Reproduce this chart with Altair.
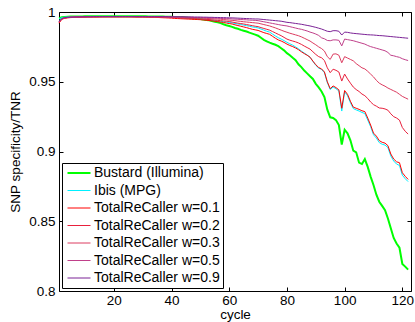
import altair as alt
import pandas as pd

# values in units of 1e-4 (e.g. 9966 -> 0.9966), cycles 1..122
bustard = [9955, 9962, 9965, 9966, 9967, 9967, 9968, 9968, 9968, 9969,
           9969, 9969, 9969, 9970, 9970, 9970, 9970, 9970, 9970, 9970,
           9970, 9970, 9970, 9970, 9970, 9970, 9969, 9969, 9969, 9969,
           9969, 9968, 9968, 9968, 9967, 9967, 9967, 9966, 9966, 9966,
           9965, 9964, 9963, 9962, 9960, 9958, 9956, 9954, 9952, 9950,
           9946, 9943, 9940, 9935, 9930, 9926, 9920, 9912, 9905, 9900,
           9893, 9885, 9880, 9872, 9866, 9860, 9852, 9845, 9838, 9830,
           9815, 9800, 9790, 9780, 9772, 9765, 9755, 9740, 9725, 9705,
           9690, 9672, 9655, 9625, 9605, 9580, 9560, 9540, 9520, 9485,
           9460, 9430, 9390, 9300, 9245, 9240, 9225, 9190, 9050, 9156,
           9130, 9080, 9006, 8994, 8920, 8910, 8946, 8890, 8820, 8760,
           8690, 8640, 8610, 8580, 8520, 8450, 8380, 8340, 8310, 8194,
           8175, 8153]
ibis = [9950, 9960, 9963, 9964, 9965, 9966, 9966, 9967, 9967, 9967,
        9968, 9968, 9968, 9968, 9968, 9968, 9968, 9968, 9968, 9968,
        9968, 9968, 9968, 9968, 9968, 9968, 9968, 9967, 9967, 9967,
        9967, 9967, 9966, 9966, 9966, 9965, 9965, 9964, 9964, 9963,
        9962, 9961, 9960, 9959, 9957, 9956, 9954, 9953, 9951, 9950,
        9948, 9946, 9944, 9942, 9940, 9937, 9934, 9931, 9928, 9925,
        9922, 9918, 9914, 9910, 9906, 9902, 9898, 9893, 9890, 9886,
        9878, 9870, 9862, 9856, 9842, 9828, 9816, 9806, 9795, 9783,
        9772, 9762, 9750, 9736, 9720, 9706, 9692, 9676, 9646, 9618,
        9598, 9588, 9565, 9494, 9444, 9462, 9450, 9434, 9290, 9428,
        9400, 9350, 9308, 9298, 9290, 9280, 9272, 9226, 9178, 9120,
        9096, 9064, 9052, 9046, 9028, 8968, 8932, 8910, 8900, 8830,
        8805, 8784]
trc_01 = [9920, 9948, 9955, 9958, 9960, 9961, 9962, 9962, 9963, 9963,
          9964, 9964, 9964, 9964, 9965, 9965, 9965, 9965, 9965, 9965,
          9965, 9965, 9965, 9965, 9965, 9965, 9964, 9964, 9964, 9964,
          9963, 9963, 9962, 9962, 9961, 9960, 9959, 9958, 9957, 9956,
          9954, 9953, 9952, 9951, 9950, 9949, 9948, 9947, 9946, 9945,
          9943, 9941, 9939, 9937, 9934, 9931, 9928, 9925, 9921, 9917,
          9914, 9908, 9903, 9898, 9893, 9888, 9882, 9876, 9872, 9868,
          9860, 9852, 9846, 9840, 9826, 9812, 9800, 9792, 9782, 9770,
          9760, 9752, 9742, 9730, 9715, 9702, 9690, 9676, 9648, 9622,
          9602, 9592, 9570, 9500, 9450, 9470, 9458, 9442, 9310, 9437,
          9410, 9360, 9318, 9310, 9302, 9292, 9286, 9240, 9190, 9132,
          9110, 9078, 9066, 9060, 9042, 8982, 8946, 8926, 8920, 8848,
          8822, 8800]
trc_02 = [9925, 9950, 9957, 9960, 9962, 9963, 9963, 9964, 9964, 9964,
          9965, 9965, 9965, 9965, 9965, 9966, 9966, 9966, 9966, 9966,
          9966, 9966, 9966, 9966, 9966, 9966, 9966, 9965, 9965, 9965,
          9965, 9965, 9964, 9964, 9964, 9963, 9963, 9962, 9962, 9961,
          9960, 9959, 9958, 9957, 9956, 9955, 9954, 9953, 9952, 9950,
          9948, 9947, 9946, 9944, 9942, 9940, 9938, 9936, 9934, 9932,
          9928, 9924, 9920, 9917, 9914, 9910, 9906, 9902, 9898, 9895,
          9888, 9882, 9876, 9870, 9860, 9850, 9840, 9830, 9818, 9806,
          9798, 9792, 9786, 9778, 9768, 9756, 9745, 9734, 9715, 9696,
          9680, 9672, 9652, 9600, 9565, 9590, 9582, 9570, 9505, 9555,
          9520, 9490, 9462, 9444, 9430, 9412, 9400, 9380, 9355, 9336,
          9325, 9312, 9310, 9305, 9296, 9270, 9250, 9240, 9225, 9172,
          9145, 9125]
trc_03 = [9928, 9952, 9958, 9961, 9963, 9964, 9964, 9965, 9965, 9965,
          9966, 9966, 9966, 9966, 9966, 9966, 9966, 9967, 9967, 9967,
          9967, 9967, 9967, 9967, 9967, 9967, 9967, 9966, 9966, 9966,
          9966, 9966, 9966, 9965, 9965, 9965, 9965, 9964, 9964, 9964,
          9963, 9962, 9962, 9961, 9960, 9960, 9959, 9958, 9957, 9956,
          9955, 9954, 9953, 9952, 9950, 9949, 9948, 9946, 9944, 9942,
          9940, 9938, 9935, 9933, 9930, 9928, 9926, 9924, 9922, 9920,
          9915, 9910, 9905, 9900, 9893, 9886, 9878, 9870, 9862, 9855,
          9848, 9842, 9836, 9830, 9822, 9812, 9802, 9792, 9778, 9765,
          9750, 9738, 9720, 9680, 9660, 9698, 9700, 9690, 9636, 9680,
          9670, 9660, 9650, 9630, 9615, 9600, 9592, 9575, 9555, 9535,
          9510, 9490, 9478, 9468, 9455, 9445, 9435, 9425, 9410, 9395,
          9385, 9375]
trc_05 = [9930, 9953, 9959, 9962, 9963, 9964, 9965, 9965, 9966, 9966,
          9966, 9966, 9967, 9967, 9967, 9967, 9967, 9967, 9967, 9967,
          9967, 9967, 9967, 9967, 9967, 9967, 9967, 9967, 9967, 9967,
          9967, 9966, 9966, 9966, 9966, 9966, 9966, 9966, 9965, 9965,
          9965, 9964, 9964, 9963, 9963, 9962, 9962, 9961, 9961, 9960,
          9959, 9959, 9958, 9957, 9956, 9955, 9954, 9953, 9952, 9952,
          9950, 9949, 9948, 9946, 9945, 9944, 9942, 9941, 9940, 9938,
          9934, 9930, 9926, 9922, 9918, 9914, 9910, 9906, 9903, 9900,
          9895, 9890, 9885, 9880, 9876, 9870, 9864, 9856, 9850, 9842,
          9832, 9815, 9808, 9796, 9794, 9800, 9800, 9797, 9757, 9806,
          9802, 9798, 9794, 9788, 9782, 9776, 9770, 9760, 9752, 9746,
          9740, 9734, 9728, 9722, 9710, 9690, 9686, 9680, 9675, 9665,
          9658, 9652]
trc_09 = [9932, 9954, 9960, 9962, 9963, 9964, 9965, 9965, 9966, 9966,
          9966, 9966, 9967, 9967, 9967, 9967, 9967, 9967, 9967, 9967,
          9967, 9967, 9967, 9967, 9967, 9967, 9967, 9967, 9967, 9967,
          9967, 9967, 9967, 9967, 9967, 9967, 9967, 9967, 9966, 9966,
          9966, 9966, 9966, 9966, 9965, 9965, 9965, 9964, 9964, 9964,
          9963, 9963, 9962, 9962, 9961, 9961, 9960, 9960, 9959, 9958,
          9958, 9957, 9956, 9955, 9954, 9953, 9952, 9951, 9950, 9950,
          9948, 9946, 9944, 9942, 9940, 9938, 9936, 9934, 9930, 9926,
          9924, 9921, 9918, 9915, 9912, 9908, 9904, 9900, 9895, 9890,
          9884, 9878, 9870, 9862, 9859, 9866, 9866, 9862, 9835, 9856,
          9854, 9850, 9847, 9845, 9843, 9841, 9839, 9837, 9836, 9835,
          9833, 9831, 9830, 9828, 9826, 9824, 9822, 9820, 9818, 9816,
          9814, 9812]

series_names = ["Bustard (Illumina)", "Ibis (MPG)", "TotalReCaller w=0.1",
                "TotalReCaller w=0.2", "TotalReCaller w=0.3",
                "TotalReCaller w=0.5", "TotalReCaller w=0.9"]
series_values = [bustard, ibis, trc_01, trc_02, trc_03, trc_05, trc_09]
series_colors = ["#00FF00", "#00F0FF", "#FF0000", "#E8203C", "#DC3C60",
                 "#C0408A", "#7B2296"]
series_widths = [2, 1, 1, 1, 1, 1, 1]
x_ticks = [20, 40, 60, 80, 100, 120]
y_ticks = [0.8, 0.85, 0.9, 0.95, 1.0]

rows = []
for order, (name, vals) in enumerate(zip(series_names, series_values)):
    for i, v in enumerate(vals):
        rows.append({"cycle": i + 1, "value": v / 10000.0,
                     "series": name, "order": order})
df = pd.DataFrame(rows)

FONT = "Liberation Sans"
xscale = alt.Scale(domain=[1, 123], nice=False, zero=False)
yscale = alt.Scale(domain=[0.8, 1.0], nice=False, zero=False)

legend = alt.Legend(
    orient="none", legendX=3, legendY=151, title=None,
    symbolType="M-2.3,0L2.3,0", symbolSize=100, symbolOffset=7,
    labelFont=FONT, labelFontSize=14,
    labelColor="black", padding=3, strokeColor="black", fillColor="white",
    rowPadding=3.5, labelOffset=8, cornerRadius=0, labelLimit=300,
)

lines = alt.Chart(df).mark_line(interpolate="linear").encode(
    x=alt.X("cycle:Q", scale=xscale,
            axis=alt.Axis(values=x_ticks, title="cycle", orient="bottom",
                          offset=-4, tickSize=4, domain=False, grid=False,
                          labelPadding=2, labelFont=FONT, labelFontSize=13.5,
                          labelColor="black", tickColor="black",
                          titleFont=FONT, titleFontSize=13.5,
                          titleFontWeight="normal", titleColor="black",
                          titlePadding=1, labelFlush=False)),
    y=alt.Y("value:Q", scale=yscale,
            axis=alt.Axis(values=y_ticks, title="SNP specificity/TNR",
                          orient="left", offset=-4, tickSize=4, domain=False,
                          grid=False, format=".2~f", labelPadding=4,
                          labelFont=FONT, labelFontSize=13.5,
                          labelColor="black", tickColor="black",
                          titleFont=FONT, titleFontSize=13.5,
                          titleFontWeight="normal", titleColor="black",
                          titlePadding=6, labelFlush=False)),
    color=alt.Color("series:N", sort=series_names,
                    scale=alt.Scale(domain=series_names, range=series_colors),
                    legend=legend),
    strokeWidth=alt.StrokeWidth("series:N", sort=series_names,
                                scale=alt.Scale(type="ordinal",
                                                domain=series_names,
                                                range=series_widths),
                                legend=legend),
    order=alt.Order("cycle:Q"),
    detail="series:N",
)

frame_ticks = alt.Chart(df).mark_line(opacity=0).encode(
    x=alt.X("cycle:Q", scale=xscale,
            axis=alt.Axis(values=x_ticks, orient="top", offset=-4, tickSize=4,
                          labels=False, domain=False, grid=False, title=None,
                          tickColor="black")),
    y=alt.Y("value:Q", scale=yscale,
            axis=alt.Axis(values=y_ticks, orient="right", offset=-4,
                          tickSize=4, labels=False, domain=False, grid=False,
                          title=None, tickColor="black")),
    detail="series:N",
)

chart = alt.layer(lines, frame_ticks).resolve_axis(
    x="independent", y="independent"
).properties(
    width=352, height=279,
    autosize=alt.AutoSizeParams(type="none"),
    padding={"left": 59, "top": 12, "right": 4, "bottom": 31},
    background="white",
).configure_view(stroke="black", strokeWidth=1)

chart.save("out.html", embed_options={"renderer": "svg", "actions": False})
